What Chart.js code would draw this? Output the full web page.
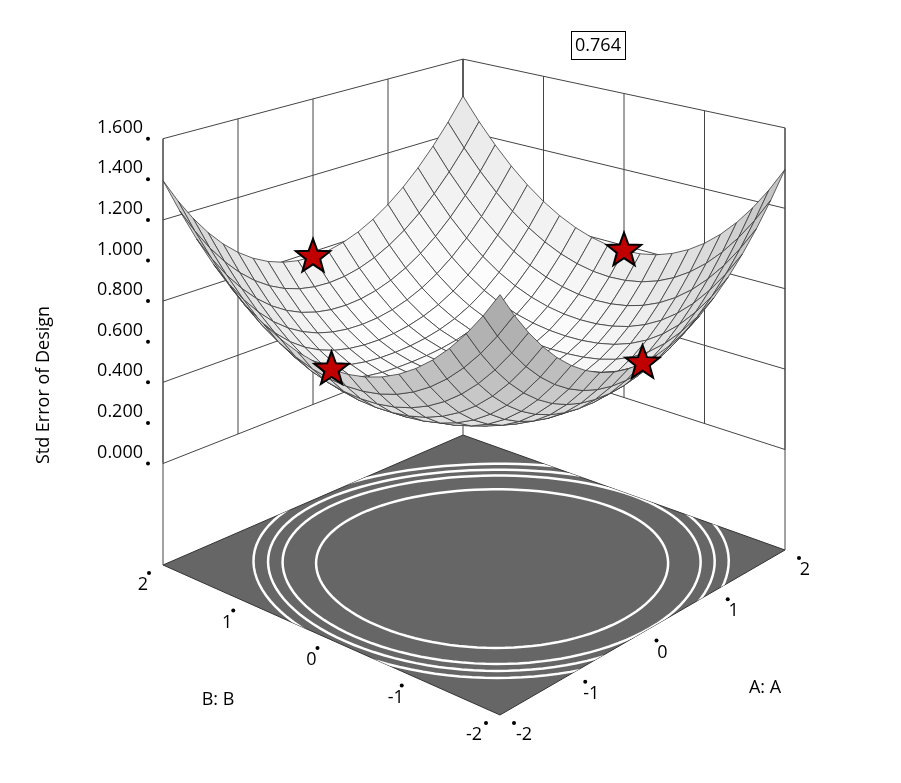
<!DOCTYPE html>
<html>
<head>
<meta charset="utf-8">
<script src="https://cdn.jsdelivr.net/npm/chart.js@4.4.0/dist/chart.umd.min.js"></script>
<style>
  html, body { margin: 0; padding: 0; background: #fff; }
  #wrap { width: 901px; height: 783px; }
</style>
</head>
<body>
<div id="wrap"><canvas id="surf"></canvas></div>
<script>
// factor grid and ticks
const aTicks = [-2, -1, 0, 1, 2];
const bTicks = [-2, -1, 0, 1, 2];
const zTicks = [0, 0.2, 0.4, 0.6, 0.8, 1.0, 1.2, 1.4, 1.6];
const zTickLabels = ['0.000', '0.200', '0.400', '0.600', '0.800', '1.000', '1.200', '1.400', '1.600'];
const wallLines = [0, 0.4, 0.8, 1.2, 1.6];
const meshSteps = [-2, -1.8, -1.6, -1.4, -1.2, -1, -0.8, -0.6, -0.4, -0.2, 0, 0.2, 0.4, 0.6, 0.8, 1, 1.2, 1.4, 1.6, 1.8, 2];
// std error model: sqrt(c0 + c1 r^2 + c2 r^4)
const modelCoef = [0.15, 0.0, 0.028];
// design points (A, B)
const designA = [-2, 0, 2, 0];
const designB = [0, 2, 0, -2];
// floor contour radii
const contourRadii = [1.6, 1.9, 2.03, 2.16];
const calloutValue = '0.764';

const floorZ = -0.5;
// screen positions of floor corners (A,B) and vertical scale (px per unit)
const corner = {
  F: [500, 715, 222], // A=-2,B=-2
  R: [785, 550, 201], // A=2,B=-2
  L: [163, 565, 203], // A=-2,B=2
  K: [463, 435, 179]  // A=2,B=2
};

function model(a, b) {
  const r2 = a * a + b * b;
  return Math.sqrt(modelCoef[0] + modelCoef[1] * r2 + modelCoef[2] * r2 * r2);
}

function proj(a, b, z) {
  const u = (a + 2) / 4, v = (b + 2) / 4;
  const w = k => (1 - u) * (1 - v) * corner.F[k] + u * (1 - v) * corner.R[k] + (1 - u) * v * corner.L[k] + u * v * corner.K[k];
  return { x: w(0), y: w(1) - (z - floorZ) * w(2) };
}

const drawer = {
  id: 'drawer',
  afterDatasetsDraw(chart) {
    const ctx = chart.ctx;
    const sx = chart.scales.x, sy = chart.scales.y;
    const P = (a, b, z) => { const p = proj(a, b, z); return [sx.getPixelForValue(p.x), sy.getPixelForValue(p.y)]; };
    ctx.save();

    // floor
    ctx.beginPath();
    [[-2, -2], [2, -2], [2, 2], [-2, 2]].forEach((c, i) => { const p = P(c[0], c[1], floorZ); i ? ctx.lineTo(p[0], p[1]) : ctx.moveTo(p[0], p[1]); });
    ctx.closePath();
    ctx.fillStyle = '#666666';
    ctx.fill();
    ctx.strokeStyle = '#333';
    ctx.lineWidth = 1;
    ctx.stroke();
    ctx.save();
    ctx.clip();
    ctx.strokeStyle = '#ffffff';
    ctx.lineWidth = 2.5;
    contourRadii.forEach(r => {
      ctx.beginPath();
      for (let t = 0; t <= 120; t++) {
        const th = t / 120 * Math.PI * 2;
        const p = P(r * Math.cos(th) + 0.1, r * Math.sin(th) - 0.1, floorZ);
        t ? ctx.lineTo(p[0], p[1]) : ctx.moveTo(p[0], p[1]);
      }
      ctx.stroke();
    });
    ctx.restore();

    // back walls
    ctx.strokeStyle = '#444';
    ctx.lineWidth = 1;
    const line = (p, q) => { ctx.beginPath(); ctx.moveTo(p[0], p[1]); ctx.lineTo(q[0], q[1]); ctx.stroke(); };
    wallLines.forEach(z => {
      line(P(-2, 2, z), P(2, 2, z));
      line(P(2, 2, z), P(2, -2, z));
    });
    aTicks.forEach(a => line(P(a, 2, 0), P(a, 2, 1.6)));
    bTicks.forEach(b => line(P(2, b, 0), P(2, b, 1.6)));
    line(P(-2, 2, floorZ), P(-2, 2, 1.6));
    line(P(2, 2, floorZ), P(2, 2, 1.6));
    line(P(2, -2, floorZ), P(2, -2, 1.6));

    // surface quads, far first
    const quads = [];
    for (let i = 0; i < meshSteps.length - 1; i++) {
      for (let j = 0; j < meshSteps.length - 1; j++) {
        quads.push([meshSteps[i], meshSteps[i + 1], meshSteps[j], meshSteps[j + 1]]);
      }
    }
    quads.sort((p, q) => (q[0] + q[2]) - (p[0] + p[2]));
    quads.forEach(q => {
      const [a0, a1, b0, b1] = q;
      const am = (a0 + a1) / 2, bm = (b0 + b1) / 2;
      const dzA = (model(a1, bm) - model(a0, bm)) / (a1 - a0);
      const dzB = (model(am, b1) - model(am, b0)) / (b1 - b0);
      const n = [-dzA, -dzB, 1];
      const len = Math.hypot(n[0], n[1], n[2]);
      const l = [-0.15, -0.2, 0.97];
      const lam = Math.max(0, (n[0] * l[0] + n[1] * l[1] + n[2] * l[2]) / len);
      const g = Math.round(110 + 145 * Math.pow(lam, 1.5));
      const pts = [P(a0, b0, model(a0, b0)), P(a1, b0, model(a1, b0)), P(a1, b1, model(a1, b1)), P(a0, b1, model(a0, b1))];
      ctx.beginPath();
      pts.forEach((p, k) => k ? ctx.lineTo(p[0], p[1]) : ctx.moveTo(p[0], p[1]));
      ctx.closePath();
      ctx.fillStyle = `rgb(${g},${g},${g})`;
      ctx.fill();
      ctx.strokeStyle = '#3a3a3a';
      ctx.lineWidth = 0.8;
      ctx.stroke();
    });

    // design point stars
    designA.forEach((a, i) => {
      const b = designB[i];
      const c = P(a, b, model(a, b));
      ctx.beginPath();
      for (let k = 0; k < 10; k++) {
        const r = k % 2 ? 7.5 : 18;
        const th = -Math.PI / 2 + k * Math.PI / 5;
        const x = c[0] + r * Math.cos(th), y = c[1] + r * Math.sin(th);
        k ? ctx.lineTo(x, y) : ctx.moveTo(x, y);
      }
      ctx.closePath();
      ctx.fillStyle = '#c00000';
      ctx.fill();
      ctx.strokeStyle = '#000';
      ctx.lineWidth = 2;
      ctx.stroke();
    });

    // z axis ticks and labels
    ctx.fillStyle = '#000';
    ctx.font = '18px "Open Sans", "Noto Sans", sans-serif';
    ctx.textBaseline = 'middle';
    ctx.textAlign = 'right';
    zTicks.forEach((z, i) => {
      const p = P(-2, 2, z);
      ctx.beginPath(); ctx.arc(p[0] - 15, p[1], 2, 0, Math.PI * 2); ctx.fill();
      ctx.fillText(zTickLabels[i], p[0] - 20, p[1] - 11);
    });

    // B axis along front-left edge
    ctx.textAlign = 'center';
    bTicks.forEach(b => {
      const p = P(-2, b, floorZ);
      ctx.beginPath(); ctx.arc(p[0] - 14, p[1] + 8, 2, 0, Math.PI * 2); ctx.fill();
      ctx.fillText(String(b), p[0] - 20 - (b === -2 ? 6 : 0), p[1] + 20);
    });
    aTicks.forEach(a => {
      const p = P(a, -2, floorZ);
      ctx.beginPath(); ctx.arc(p[0] + 14, p[1] + 8, 2, 0, Math.PI * 2); ctx.fill();
      ctx.fillText(String(a), p[0] + 20 + (a === -2 ? 4 : 0), p[1] + 20);
    });
    ctx.fillText('B: B', 218, 700);
    ctx.fillText('A: A', 765, 688);

    ctx.save();
    ctx.translate(44, 385);
    ctx.rotate(-Math.PI / 2);
    ctx.fillText('Std Error of Design', 0, 0);
    ctx.restore();

    // callout box
    ctx.fillStyle = '#fff';
    ctx.fillRect(571, 31, 55, 29);
    ctx.strokeStyle = '#000';
    ctx.lineWidth = 1;
    ctx.strokeRect(571.5, 31.5, 54, 28);
    ctx.fillStyle = '#000';
    ctx.fillText(calloutValue, 598, 46);

    ctx.restore();
  }
};

new Chart(document.getElementById('surf'), {
  type: 'scatter',
  data: { datasets: [{ data: [] }] },
  options: {
    responsive: true,
    maintainAspectRatio: false,
    animation: false,
    layout: { padding: 0 },
    plugins: { legend: { display: false }, tooltip: { enabled: false } },
    scales: {
      x: { type: 'linear', min: 0, max: 901, display: false },
      y: { type: 'linear', min: 0, max: 783, reverse: true, display: false }
    }
  },
  plugins: [drawer]
});
</script>
</body>
</html>
